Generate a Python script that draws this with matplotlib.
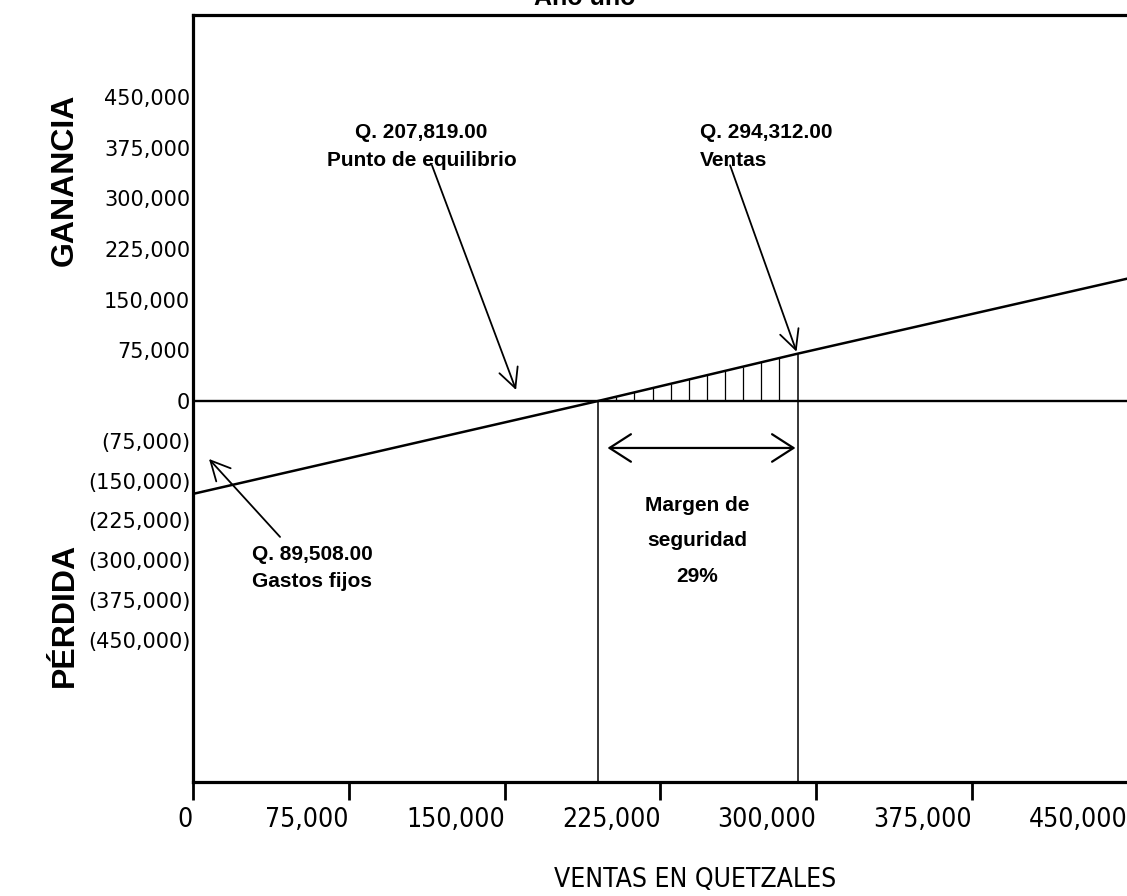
import numpy as np
import matplotlib
matplotlib.use('Agg')
import matplotlib.pyplot as plt
from matplotlib import font_manager
from matplotlib.transforms import ScaledTranslation

# valores (punto de equilibrio)
x_ticks = [0, 75000, 150000, 225000, 300000, 375000, 450000]
y_ticks = [-450000, -375000, -300000, -225000, -150000, -75000, 0,
           75000, 150000, 225000, 300000, 375000, 450000]
ventas_x = [0, 195000, 291000, 451000]          # ventas en quetzales
ganancia_y = [-175000, 0, 70000, 182000]        # ganancia / perdida
punto_equilibrio = 195000
ventas = 291000

etiqueta_equilibrio = 'Q. 207,819.00\nPunto de equilibrio'
etiqueta_ventas = 'Q. 294,312.00\nVentas'
etiqueta_fijos = 'Q. 89,508.00\nGastos fijos'
etiqueta_margen = 'Margen de\nseguridad\n29%'

ARIAL = ['Liberation Sans', 'DejaVu Sans']
# fuente angosta para el eje x
condensada = [f for f in font_manager.fontManager.ttflist
              if 'Condensed' in f.fname and 'Bold' not in f.fname and 'Oblique' not in f.fname]
if condensada:
    NARROW = font_manager.FontProperties(fname=condensada[0].fname)
else:
    NARROW = font_manager.FontProperties(family='DejaVu Sans')

# escala del eje y: la parte negativa esta mas comprimida que la positiva
k = 239 / 304


def fwd(y):
    y = np.asarray(y, dtype=float)
    return np.where(y < 0, y * k, y)


def inv(y):
    y = np.asarray(y, dtype=float)
    return np.where(y < 0, y / k, y)


def fmt_y(v):
    if v == 0:
        return '0'
    if v < 0:
        return f'({-v:,})'
    return f'{v:,}'


fig = plt.figure(figsize=(11.27, 8.96), dpi=100)
ax = fig.add_axes([193 / 1127, 1 - 782 / 896, 937 / 1127, 767 / 896])
ax.set_yscale('function', functions=(fwd, inv))
ax.set_xlim(0, 451000)
ax.set_ylim(-717500, 571400)

# linea de ganancia
ax.plot(ventas_x, ganancia_y, color='black', lw=1.8)
ax.axhline(0, color='black', lw=1.7)

# lineas verticales en equilibrio y ventas
y_min = ax.get_ylim()[0]
ax.vlines(punto_equilibrio, y_min, 0, color='black', lw=1.1)
ax.vlines(ventas, y_min, np.interp(ventas, ventas_x, ganancia_y), color='black', lw=1.1)

# rayado de la zona de ganancia
xs = np.linspace(punto_equilibrio, ventas, 12)[1:-1]
ax.vlines(xs, 0, np.interp(xs, ventas_x, ganancia_y), color='black', lw=0.9)

# flecha del margen de seguridad
ax.annotate('', xy=(290000, -88500), xytext=(199500, -88500),
            arrowprops=dict(arrowstyle='<->,head_length=0.7,head_width=0.45',
                            color='black', lw=1.6, mutation_scale=22,
                            shrinkA=0, shrinkB=0))
ax.text(242700, -263600, etiqueta_margen, ha='center', va='center',
        fontsize=15, fontweight='bold', family=ARIAL, linespacing=2.1)

flecha = dict(arrowstyle='->,head_length=0.7,head_width=0.35', color='black',
              lw=1.3, mutation_scale=20, shrinkA=0, shrinkB=0)

ax.text(110000, 376700, etiqueta_equilibrio, ha='center', va='center',
        fontsize=15, fontweight='bold', family=ARIAL, linespacing=1.55)
ax.annotate('', xy=(155500, 16300), xytext=(115000, 349000), arrowprops=flecha)

ax.text(244000, 376700, etiqueta_ventas, ha='left', va='center',
        fontsize=15, fontweight='bold', family=ARIAL, linespacing=1.55)
ax.annotate('', xy=(290500, 73000), xytext=(258500, 349000), arrowprops=flecha)

ax.text(28400, -314500, etiqueta_fijos, ha='left', va='center',
        fontsize=15, fontweight='bold', family=ARIAL, linespacing=1.55)
ax.annotate('', xy=(7700, -109200), xytext=(41900, -256000), arrowprops=flecha)

# ejes
ax.set_xticks(x_ticks)
ax.set_xticklabels([f'{v:,}' if v else '0' for v in x_ticks], ha='right')
desplazar = ScaledTranslation(-6 / 100, 0, fig.dpi_scale_trans)
for lab in ax.get_xticklabels():
    lab.set_fontproperties(NARROW)
    lab.set_fontsize(19)
    lab.set_transform(lab.get_transform() + desplazar)
ax.set_yticks(y_ticks)
ax.set_yticklabels([fmt_y(v) for v in y_ticks], fontsize=15, family=['DejaVu Sans'])
ax.yaxis.set_minor_locator(matplotlib.ticker.NullLocator())
ax.tick_params(axis='x', direction='out', length=13, width=2, pad=5)
ax.tick_params(axis='y', length=0, pad=2)

for s in ['left', 'top', 'bottom']:
    ax.spines[s].set_linewidth(2.3)
ax.spines['right'].set_visible(False)

ax.set_xlabel('VENTAS EN QUETZALES')
ax.xaxis.label.set_fontproperties(NARROW)
ax.xaxis.label.set_fontsize(19)
ax.xaxis.set_label_coords(0.536, -0.128)
ax.xaxis.label.set_va('center')

fig.text(65 / 1127, 1 - 180 / 896, 'GANANCIA', rotation=90, ha='center', va='center',
         fontsize=23, fontweight='bold', family=ARIAL)
fig.text(65 / 1127, 1 - 615 / 896, 'PÉRDIDA', rotation=90, ha='center', va='center',
         fontsize=23, fontweight='bold', family=ARIAL)
fig.text(585 / 1127, 1 - 5 / 896, 'Año uno', ha='center', va='baseline',
         fontsize=18, fontweight='bold', family=ARIAL)

fig.savefig('out.png', dpi=100)
